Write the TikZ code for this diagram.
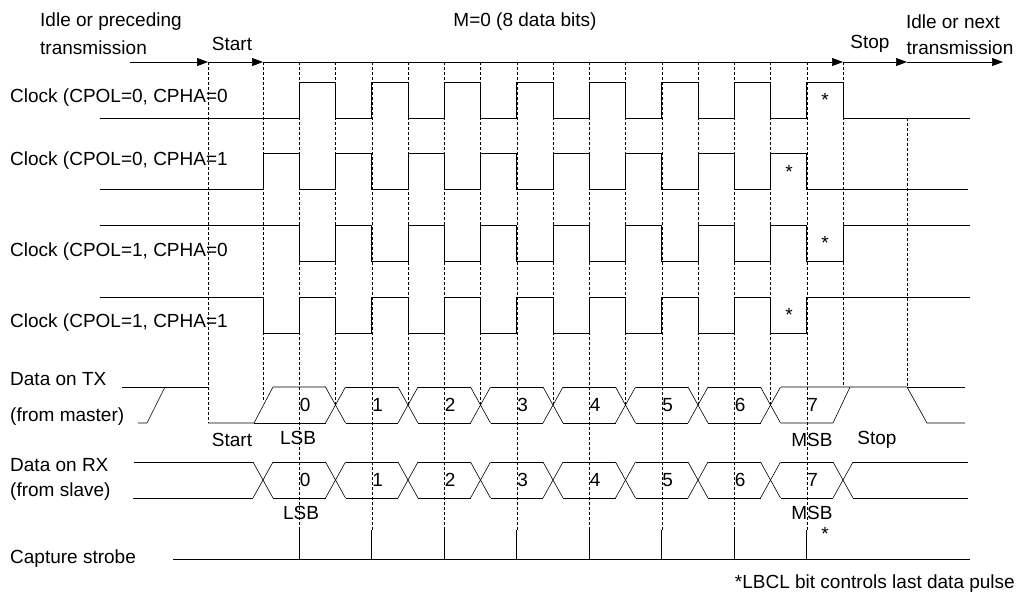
\documentclass[tikz,border=0pt]{standalone}
\usepackage{fontspec}
\setmainfont{Liberation Sans}
\usetikzlibrary{arrows.meta}
\tikzset{
	sig/.style={semithick},
	grid/.style={thin,dash pattern=on 3pt off 2pt},
	lbl/.style={inner sep=0pt,font=\fontsize{19}{22}\selectfont},
	tip/.style={-{Triangle[length=11pt,width=8pt]}},
	declare function={ed(\k)=263+36.25*\k;},
}
\begin{document}
\begin{tikzpicture}[x=1pt,y=-1pt]
	\useasboundingbox (0,0) rectangle (1023,598);
	% time axis
	\coordinate (a0) at (130,62);
	\coordinate (a1) at (208,62);
	\coordinate (a2) at (263,62);
	\coordinate (a3) at (843,62);
	\coordinate (a4) at (907,62);
	\coordinate (a5) at (1003,62);
	\draw[sig,tip] (a0) -- (a1);
	\draw[sig,tip] (a1) -- (a2);
	\draw[sig,tip] (a2) -- (a3);
	\draw[sig,tip] (a3) -- (a4);
	\draw[sig,tip] (a4) -- (a5);
	\node[lbl,anchor=west] (idl) at (40,22) {Idle or preceding};
	\node[lbl,anchor=west] (trn) at (40,48) {transmission};
	\node[lbl] (st) at (232,44) {Start};
	\node[lbl] (m0) at (525,22) {M=0 (8 data bits)};
	\node[lbl] (sp) at (870,44) {Stop};
	\node[lbl] (idn) at (953,22) {Idle or next};
	\node[lbl] (trn2) at (960,48) {transmission};
	% dashed grid
	\draw[grid] (208,62) -- (208,423);
	\draw[grid] (263,62) -- (263,400);
	\foreach \k in {1,3,...,15}{
		\draw[grid] ({ed(\k)},62) -- ({ed(\k)},530);
		\draw[sig] ({ed(\k)},530) -- ({ed(\k)},559);
	}
	\foreach \k in {2,4,...,14}
		\draw[grid] ({ed(\k)},62) -- ({ed(\k)},405);
	\draw[grid] (843,62) -- (843,387);
	\draw[grid] (907,118) -- (907,387);
	% clocks
	\node[lbl,anchor=west] (c1) at (10,98) {Clock (CPOL=0, CPHA=0};
	\node[lbl,anchor=west] (c2) at (10,161) {Clock (CPOL=0, CPHA=1};
	\node[lbl,anchor=west] (c3) at (10,252) {Clock (CPOL=1, CPHA=0};
	\node[lbl,anchor=west] (c4) at (10,323) {Clock (CPOL=1, CPHA=1};
	\draw[sig] (100,118) \foreach \i in {0,...,7}{ -- ({ed(2*\i+1)},118) -- ++(0,-36) -- ({ed(2*\i+2)},82) -- ++(0,36)} -- (970,118);
	\draw[sig] (100,189) \foreach \i in {0,...,7}{ -- ({ed(2*\i)},189) -- ++(0,-36) -- ({ed(2*\i+1)},153) -- ++(0,36)} -- (968,189);
	\draw[sig] (100,225) \foreach \i in {0,...,7}{ -- ({ed(2*\i+1)},225) -- ++(0,36) -- ({ed(2*\i+2)},261) -- ++(0,-36)} -- (970,225);
	\draw[sig] (100,297) \foreach \i in {0,...,7}{ -- ({ed(2*\i)},297) -- ++(0,36) -- ({ed(2*\i+1)},333) -- ++(0,-36)} -- (970,297);
	\node[lbl] (s1) at (825,100) {*};
	\node[lbl] (s2) at (789,172) {*};
	\node[lbl] (s3) at (825,243) {*};
	\node[lbl] (s4) at (789,315) {*};
	% data on TX
	\node[lbl,anchor=west] (tx1) at (10,379) {Data on TX};
	\node[lbl,anchor=west] (tx2) at (10,417) {(from master)};
	\draw[sig] (122,387) -- (208,387);
	\draw[sig] (138,423) -- (147,423) -- (165,387);
	\draw[sig] (208,423) -- (254,423) -- (273,387) -- (326,387);
	\draw[sig] (254,423) -- (326,423);
	\foreach \k in {1,...,7}{
		\draw[sig] ({ed(2*\k)-10},387) -- ({ed(2*\k)+10},423);
		\draw[sig] ({ed(2*\k)-10},423) -- ({ed(2*\k)+10},387);
	}
	\foreach \b in {1,...,6}{
		\draw[sig] ({ed(2*\b)+10},387) -- ({ed(2*\b+2)-10},387);
		\draw[sig] ({ed(2*\b)+10},423) -- ({ed(2*\b+2)-10},423);
	}
	\draw[sig] (781,387) -- (907,387) -- (927,423) -- (965,423);
	\draw[sig] (907,387) -- (965,387);
	\draw[sig] (781,423) -- (833,423) -- (850,387);
	\foreach \b in {0,...,7}
		\node[lbl] (tb\b) at ({ed(2*\b+1)+6},405) {\b};
	\node[lbl] (st2) at (232,440) {Start};
	\node[lbl] (lsb1) at (298,438) {LSB};
	\node[lbl] (msb1) at (812,440) {MSB};
	\node[lbl] (sp2) at (877,440) {Stop};
	% data on RX
	\node[lbl,anchor=west] (rx1) at (10,465) {Data on RX};
	\node[lbl,anchor=west] (rx2) at (10,492) {(from slave)};
	\draw[sig] (134,462) -- (253,462);
	\draw[sig] (133,498) -- (253,498);
	\foreach \k in {0,...,8}{
		\draw[sig] ({ed(2*\k)-10},462) -- ({ed(2*\k)+10},498);
		\draw[sig] ({ed(2*\k)-10},498) -- ({ed(2*\k)+10},462);
	}
	\foreach \b in {0,...,7}{
		\draw[sig] ({ed(2*\b)+10},462) -- ({ed(2*\b+2)-10},462);
		\draw[sig] ({ed(2*\b)+10},498) -- ({ed(2*\b+2)-10},498);
		\node[lbl] (rb\b) at ({ed(2*\b+1)+6},480) {\b};
	}
	\draw[sig] (853,462) -- (968,462);
	\draw[sig] (853,498) -- (968,498);
	\node[lbl] (lsb2) at (301,513) {LSB};
	\node[lbl] (msb2) at (812,513) {MSB};
	\node[lbl] (s5) at (825,534) {*};
	% capture strobe
	\node[lbl,anchor=west] (cap) at (10,559) {Capture strobe};
	\draw[sig] (173,559) -- (970,559);
	\node[lbl,anchor=east] (note) at (1015,584) {*LBCL bit controls last data pulse};
\end{tikzpicture}
\end{document}
